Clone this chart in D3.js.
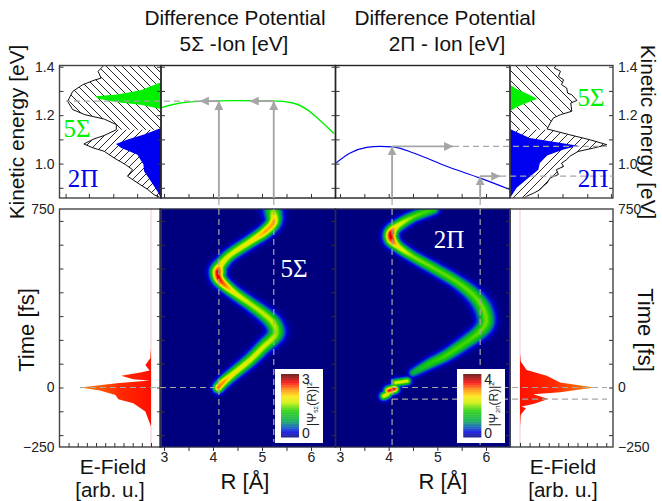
<!DOCTYPE html>
<html>
<head>
<meta charset="utf-8">
<script src="https://cdn.jsdelivr.net/npm/d3@7"></script>
<style>
html, body { margin: 0; padding: 0; background: white; }
svg { display: block; font-family: "Liberation Sans", sans-serif; }
</style>
</head>
<body>
<script>
// spectra, left panel: kinetic energy [eV] / intensity
const leftSpecE = [1.407, 1.381, 1.353, 1.344, 1.326, 1.298, 1.257, 1.223, 1.202, 1.184, 1.161, 1.140, 1.116, 1.102, 1.081, 1.065, 1.051, 1.023, 0.996, 0.975, 0.948, 0.920, 0.893, 0.872, 0.858];
const leftSpecI = [0.56, 0.62, 0.59, 0.66, 0.77, 0.87, 0.92, 0.87, 0.75, 0.56, 0.44, 0.44, 0.56, 0.66, 0.76, 0.67, 0.56, 0.46, 0.35, 0.28, 0.33, 0.23, 0.13, 0.07, 0];
const leftGreenE = [1.336, 1.303, 1.285, 1.278, 1.268, 1.253, 1.243, 1.225];
const leftGreenI = [0, 0.20, 0.43, 0.647, 0.62, 0.43, 0.20, 0];
const leftBlueE = [1.147, 1.120, 1.099, 1.081, 1.065, 1.037, 0.996, 0.968, 0.927, 0.886, 0.858];
const leftBlueI = [0, 0.167, 0.33, 0.444, 0.395, 0.232, 0.173, 0.167, 0.10, 0.036, 0];

// spectra, right panel
const rightSpecE = [1.407, 1.395, 1.381, 1.360, 1.346, 1.326, 1.312, 1.291, 1.284, 1.261, 1.250, 1.216, 1.202, 1.188, 1.167, 1.143, 1.119, 1.098, 1.078, 1.064, 1.050, 1.030, 1.016, 1.002, 0.988, 0.975, 0.955, 0.941, 0.920, 0.906, 0.892, 0.878, 0.865, 0.858];
const rightSpecI = [0.45, 0.43, 0.49, 0.47, 0.52, 0.50, 0.55, 0.56, 0.60, 0.65, 0.59, 0.60, 0.49, 0.42, 0.39, 0.36, 0.58, 0.78, 0.94, 0.81, 0.66, 0.58, 0.55, 0.50, 0.52, 0.45, 0.47, 0.39, 0.36, 0.32, 0.29, 0.23, 0.16, 0.14];
const rightGreenE = [1.326, 1.308, 1.289, 1.268, 1.250, 1.234, 1.216];
const rightGreenI = [0, 0.065, 0.16, 0.265, 0.16, 0.065, 0];
const rightBlueE = [1.143, 1.106, 1.092, 1.074, 1.058, 1.033, 1.003, 0.975, 0.934, 0.900, 0.858];
const rightBlueI = [0, 0.19, 0.39, 0.663, 0.52, 0.36, 0.29, 0.275, 0.16, 0.065, 0];

// difference potentials
const sigmaPotR = [2.93, 3.33, 3.73, 4.41, 5.22, 5.63, 5.92, 6.18, 6.47];
const sigmaPotE = [1.230, 1.250, 1.257, 1.260, 1.259, 1.250, 1.223, 1.179, 1.124];
const piPotR = [2.92, 3.21, 3.55, 3.82, 4.09, 4.51, 5.19, 5.87, 6.49];
const piPotE = [1.003, 1.044, 1.067, 1.071, 1.069, 1.044, 0.989, 0.941, 0.893];

// wave packet ridges: R [A], time [fs], peak (0-1 of the colour bar), width [px]
const sigmaR = [4.11, 4.22, 4.41, 4.76, 5.03, 5.22, 5.29, 5.23, 5.06, 4.76, 4.45, 4.24, 4.12, 4.10, 4.16, 4.35, 4.76, 5.06, 5.24, 5.22];
const sigmaT = [0, 24, 57, 116, 171, 207, 234, 270, 305, 351, 396, 431, 459, 487, 515, 557, 613, 655, 697, 746];
const sigmaPeak = [0.78, 0.74, 0.62, 0.58, 0.56, 0.54, 0.5, 0.54, 0.54, 0.54, 0.6, 0.78, 0.88, 0.88, 0.62, 0.58, 0.62, 0.72, 0.72, 0.45];
const sigmaWidth = [3.4, 3.6, 3.8, 4.1, 4.4, 4.9, 5.6, 5.1, 4.6, 4.1, 3.9, 3.9, 4.3, 4.8, 4.3, 3.9, 3.9, 4.1, 4.6, 6];

const piR = [4.5, 4.85, 5.19, 5.60, 5.87, 6.0, 5.94, 5.74, 5.40, 4.99, 4.5, 4.2, 4.06, 4.05, 4.16, 4.5, 4.92];
const piT = [62, 101, 136, 192, 234, 276, 333, 389, 444, 494, 550, 591, 622, 648, 676, 717, 749];
const piPeak = [0.3, 0.42, 0.45, 0.45, 0.47, 0.48, 0.48, 0.47, 0.47, 0.47, 0.5, 0.62, 0.88, 0.92, 0.62, 0.48, 0.42];
const piWidth = [3, 3.6, 3.9, 4.4, 4.9, 5.6, 5.6, 4.9, 4.1, 3.9, 3.6, 3.6, 4.3, 4.3, 3.9, 3.6, 3.6];
// the three short pieces near time zero
const blobR = [[4.14, 4.38], [3.9, 3.98], [4.0, 4.12]];
const blobT = [[20, 27], [-36, -28], [-14, -6]];
const blobPeak = [0.58, 0.6, 0.85];
const blobWidth = [2.6, 2.8, 3];

// e-field envelopes
const fieldLeftT = [165, 123, 95, 71, 63, 49, 35, 29, 18, 0, -13, -31, -49, -66, -101, -164];
const fieldLeftA = [0, 0.01, 0.08, 0.02, 0.15, 0.42, 0.25, 0.02, 0.48, 1, 0.72, 0.50, 0.46, 0.25, 0.08, 0];
const fieldRightT = [144, 109, 74, 49, 21, 0, -20, -28, -48, -69, -80, -87, -115, -164];
const fieldRightA = [0, 0.01, 0.09, 0.36, 0.54, 1, 0.54, 0.18, 0.38, 0.18, 0.02, 0.08, 0.01, 0];

const energyMajor = [1.0, 1.2, 1.4];
const energyMinor = [0.9, 1.0, 1.1, 1.2, 1.3, 1.4];
const timeMajor = [-250, 0, 750];
const timeMinor = [-200, -100, 0, 100, 200, 300, 400, 500, 600, 700];
const rMajor = [3, 4, 5, 6];
const rMinor = [3, 3.5, 4, 4.5, 5, 5.5, 6];
const specTicksLeft = [0.04, 0.235, 0.47, 0.71, 0.94];
const specTicksRight = [0.27, 0.51, 0.75, 0.98];
const fieldTicks = [0, 0.129, 0.258, 0.387, 0.516, 0.645, 0.774, 0.903, 1.032, 1.161];

const colorStops = [0, 0.08, 0.16, 0.26, 0.42, 0.55, 0.65, 0.76, 0.86, 1];
const colorValues = ["#00007f", "#0000e0", "#0058b8", "#00a848", "#20d000", "#d0f000", "#ffe000", "#ff8000", "#ff0000", "#500000"];

const wSvg = 662;
const hSvg = 501;
const yTop = 65.5, yMid = 198, yHeat = 209, yBot = 447;
const xA = 59.5, xB = 161, xC = 335.5, xD = 510, xE = 613;

const eScale = d3.scaleLinear([0.858, 1.405], [yMid, yTop]);
const tScale = d3.scaleLinear([-250, 750], [yBot, yHeat]);
const rLeft = d3.scaleLinear([3, 6], [164, 311]);
const rRight = d3.scaleLinear([3, 6], [340, 486]);
const specLeft = d3.scaleLinear([0, 1], [xB, xA]);
const specRight = d3.scaleLinear([0, 1], [xD, xE]);
const fieldLeft = d3.scaleLinear([0, 1], [151, 80]);
const fieldRight = d3.scaleLinear([0, 1], [520, 594.3]);
const heatColor = d3.scaleLinear(colorStops, colorValues).clamp(true);

const axisColor = "#444";
const tickColor = "#333";
const gray = "#a6a6a6";
const green = "#00f000";
const blue = "#0000f0";

const svg = d3.select("body").append("svg")
    .attr("width", wSvg)
    .attr("height", hSvg);

const defs = svg.append("defs");

function hatch(id, dir, size) {
    let d = dir > 0 ? `M0,${size} L${size},0 M-1,1 L1,-1 M${size - 1},${size + 1} L${size + 1},${size - 1}`
                    : `M0,0 L${size},${size} M-1,${size - 1} L1,${size + 1} M${size - 1},-1 L${size + 1},1`;
    defs.append("pattern")
        .attr("id", id)
        .attr("patternUnits", "userSpaceOnUse")
        .attr("width", size)
        .attr("height", size)
        .append("path")
        .attr("d", d)
        .attr("stroke", "#111")
        .attr("stroke-width", 0.9);
}
hatch("hatchDownL", -1, 8);
hatch("hatchUpL", 1, 8);
hatch("hatchDownR", -1, 10);
hatch("hatchUpR", 1, 9);

defs.append("marker")
    .attr("id", "arrow")
    .attr("viewBox", "0 0 10 10")
    .attr("refX", 10)
    .attr("refY", 5)
    .attr("markerUnits", "userSpaceOnUse")
    .attr("markerWidth", 9)
    .attr("markerHeight", 9)
    .attr("orient", "auto")
    .append("path")
    .attr("d", "M0,0 L10,5 L0,10 Z")
    .attr("fill", gray);

function fieldGradient(id, x1, x2) {
    let g = defs.append("linearGradient")
        .attr("id", id)
        .attr("gradientUnits", "userSpaceOnUse")
        .attr("x1", x1).attr("x2", x2)
        .attr("y1", 0).attr("y2", 0);
    g.append("stop").attr("offset", 0).attr("stop-color", "#ff1000");
    g.append("stop").attr("offset", 0.45).attr("stop-color", "#ff2a00");
    g.append("stop").attr("offset", 1).attr("stop-color", "#ff8a00");
}
fieldGradient("fieldL", fieldLeft(0), fieldLeft(1));
fieldGradient("fieldR", fieldRight(0), fieldRight(1));

function clip(id, x, y, w, h) {
    defs.append("clipPath").attr("id", id)
        .append("rect").attr("x", x).attr("y", y).attr("width", w).attr("height", h);
}
const ySplit = eScale(1.14);
clip("clipTopL", xA, yTop, xB - xA, ySplit - yTop);
clip("clipLowL", xA, ySplit, xB - xA, yMid - ySplit);
clip("clipTopR", xD, yTop, xE - xD, ySplit - yTop);
clip("clipLowR", xD, ySplit, xE - xD, yMid - ySplit);
clip("clipPotL", xB, yTop, xC - xB, yMid - yTop);
clip("clipPotR", xC, yTop, xD - xC, yMid - yTop);

// heat maps, computed per pixel from the ridge tables
// the ridge is drawn as a rounded curve through the table points, like a spline pen
function spline(a, b, c, d, u) {
    return 0.5 * (2 * b + (c - a) * u + (2 * a - 5 * b + 4 * c - d) * u * u + (3 * b - a - 3 * c + d) * u * u * u);
}
function ridgeSegments(rs, ts, peaks, widths, rScale) {
    let out = [];
    let n = rs.length;
    let xs = rs.map(r => rScale(r));
    let ys = ts.map(t => tScale(t));
    for (let i = 0; i < n - 1; i++) {
        let i0 = Math.max(0, i - 1), i3 = Math.min(n - 1, i + 2);
        for (let k = 0; k < 6; k++) {
            let u1 = k / 6, u2 = (k + 1) / 6;
            out.push({
                x1: spline(xs[i0], xs[i], xs[i + 1], xs[i3], u1),
                y1: spline(ys[i0], ys[i], ys[i + 1], ys[i3], u1),
                x2: spline(xs[i0], xs[i], xs[i + 1], xs[i3], u2),
                y2: spline(ys[i0], ys[i], ys[i + 1], ys[i3], u2),
                p1: peaks[i] + u1 * (peaks[i + 1] - peaks[i]),
                p2: peaks[i] + u2 * (peaks[i + 1] - peaks[i]),
                w1: widths[i] + u1 * (widths[i + 1] - widths[i]),
                w2: widths[i] + u2 * (widths[i + 1] - widths[i])
            });
        }
    }
    return out;
}

function heatImage(x0, x1, segments) {
    let w = Math.round(x1 - x0);
    let h = Math.round(yBot - yHeat);
    let canvas = document.createElement("canvas");
    canvas.width = w;
    canvas.height = h;
    let ctx = canvas.getContext("2d");
    let img = ctx.createImageData(w, h);
    for (let j = 0; j < h; j++) {
        for (let i = 0; i < w; i++) {
            let px = x0 + i + 0.5;
            let py = yHeat + j + 0.5;
            let v = 0;
            for (let s of segments) {
                let dx = s.x2 - s.x1, dy = s.y2 - s.y1;
                let u = ((px - s.x1) * dx + (py - s.y1) * dy) / (dx * dx + dy * dy);
                u = Math.max(0, Math.min(1, u));
                let ex = px - (s.x1 + u * dx), ey = py - (s.y1 + u * dy);
                let sig = s.w1 + u * (s.w2 - s.w1);
                let val = (s.p1 + u * (s.p2 - s.p1)) * Math.exp(-(ex * ex + ey * ey) / (2 * sig * sig));
                if (val > v) v = val;
            }
            let c = d3.rgb(heatColor(v));
            let k = (j * w + i) * 4;
            img.data[k] = c.r;
            img.data[k + 1] = c.g;
            img.data[k + 2] = c.b;
            img.data[k + 3] = 255;
        }
    }
    ctx.putImageData(img, 0, 0);
    svg.append("image")
        .attr("x", x0)
        .attr("y", yHeat)
        .attr("width", w)
        .attr("height", h)
        .attr("href", canvas.toDataURL());
}

heatImage(xB - 1, xC, ridgeSegments(sigmaR, sigmaT, sigmaPeak, sigmaWidth, rLeft));
let piSegments = ridgeSegments(piR, piT, piPeak, piWidth, rRight);
blobR.forEach((r, i) => {
    piSegments = piSegments.concat(ridgeSegments(r, blobT[i], [blobPeak[i], blobPeak[i]], [blobWidth[i], blobWidth[i]], rRight));
});
heatImage(xC, xD, piSegments);

// spectra
function zipE(es, is) {
    return es.map((e, i) => ({ e: e, v: is[i] }));
}
function specArea(scale) {
    return d3.area()
        .y(d => eScale(d.e))
        .x0(scale(0))
        .x1(d => scale(d.v));
}
function specLine(scale) {
    return d3.line()
        .y(d => eScale(d.e))
        .x(d => scale(d.v));
}

const leftSpec = zipE(leftSpecE, leftSpecI);
const rightSpec = zipE(rightSpecE, rightSpecI);

svg.append("path").attr("d", specArea(specLeft)(leftSpec)).attr("fill", "url(#hatchDownL)").attr("clip-path", "url(#clipTopL)");
svg.append("path").attr("d", specArea(specLeft)(leftSpec)).attr("fill", "url(#hatchUpL)").attr("clip-path", "url(#clipLowL)");
svg.append("path").attr("d", specArea(specRight)(rightSpec)).attr("fill", "url(#hatchDownR)").attr("clip-path", "url(#clipTopR)");
svg.append("path").attr("d", specArea(specRight)(rightSpec)).attr("fill", "url(#hatchUpR)").attr("clip-path", "url(#clipLowR)");

svg.append("path").attr("d", specLine(specLeft)(leftSpec)).attr("fill", "none").attr("stroke", "#111").attr("stroke-width", 1);
svg.append("path").attr("d", specLine(specRight)(rightSpec)).attr("fill", "none").attr("stroke", "#111").attr("stroke-width", 1);

svg.append("path").attr("d", specArea(specLeft)(zipE(leftGreenE, leftGreenI))).attr("fill", green);
svg.append("path").attr("d", specArea(specLeft)(zipE(leftBlueE, leftBlueI))).attr("fill", blue);
svg.append("path").attr("d", specArea(specRight)(zipE(rightGreenE, rightGreenI))).attr("fill", green);
svg.append("path").attr("d", specArea(specRight)(zipE(rightBlueE, rightBlueI))).attr("fill", blue);

// e-field envelopes
function fieldArea(scale) {
    return d3.area()
        .y(d => tScale(d.t))
        .x0(scale(0))
        .x1(d => scale(d.a));
}
svg.append("line")
    .attr("x1", fieldLeft(0)).attr("x2", fieldLeft(0))
    .attr("y1", yHeat).attr("y2", yBot)
    .attr("stroke", "#fbd8d8").attr("stroke-width", 1.5);
svg.append("line")
    .attr("x1", fieldRight(0)).attr("x2", fieldRight(0))
    .attr("y1", yHeat).attr("y2", yBot)
    .attr("stroke", "#fbd8d8").attr("stroke-width", 1.5);
svg.append("path")
    .attr("d", fieldArea(fieldLeft)(fieldLeftT.map((t, i) => ({ t: t, a: fieldLeftA[i] }))))
    .attr("fill", "url(#fieldL)");
svg.append("path")
    .attr("d", fieldArea(fieldRight)(fieldRightT.map((t, i) => ({ t: t, a: fieldRightA[i] }))))
    .attr("fill", "url(#fieldR)");

// potential curves
svg.append("path")
    .attr("d", d3.line().x(d => rLeft(d[0])).y(d => eScale(d[1])).curve(d3.curveMonotoneX)(sigmaPotR.map((r, i) => [r, sigmaPotE[i]])))
    .attr("fill", "none").attr("stroke", green).attr("stroke-width", 1.4).attr("clip-path", "url(#clipPotL)");
svg.append("path")
    .attr("d", d3.line().x(d => rRight(d[0])).y(d => eScale(d[1])).curve(d3.curveMonotoneX)(piPotR.map((r, i) => [r, piPotE[i]])))
    .attr("fill", "none").attr("stroke", blue).attr("stroke-width", 1.2).attr("clip-path", "url(#clipPotR)");

// frames
function frame(x, y, w, h, stroke) {
    svg.append("rect")
        .attr("x", x).attr("y", y).attr("width", w).attr("height", h)
        .attr("fill", "none").attr("stroke", stroke).attr("stroke-width", 1.4);
}
frame(xA, yTop, xB - xA, yMid - yTop, axisColor);
frame(xB, yTop, xC - xB, yMid - yTop, "#222");
frame(xC, yTop, xD - xC, yMid - yTop, "#222");
frame(xD, yTop, xE - xD, yMid - yTop, axisColor);
frame(xA, yHeat, xB - xA, yBot - yHeat, axisColor);
frame(xB - 1, yHeat, xC - xB + 1, yBot - yHeat, "#2a2a4a");
frame(xC, yHeat, xD - xC, yBot - yHeat, "#2a2a4a");
frame(xD, yHeat, xE - xD, yBot - yHeat, axisColor);

// axes, ticks pointing inwards
function cleanAxis(g) {
    g.select(".domain").remove();
    g.selectAll("line").attr("stroke", tickColor).attr("stroke-width", 1);
    g.selectAll("text").attr("fill", "#222").style("font-family", "Liberation Sans").style("font-size", "14px");
}
function inner(gen, at, values) {
    svg.append("g")
        .attr("transform", at)
        .call(gen.tickValues(values).tickSizeInner(-4).tickSizeOuter(0).tickFormat(""))
        .call(cleanAxis);
}
function labels(gen, at, values, fmt) {
    svg.append("g")
        .attr("transform", at)
        .call(gen.tickValues(values).tickSize(0).tickPadding(5).tickFormat(fmt))
        .call(cleanAxis);
}
inner(d3.axisLeft(eScale), `translate(${xA},0)`, energyMinor);
labels(d3.axisLeft(eScale), `translate(${xA},0)`, energyMajor, d3.format(".1f"));
inner(d3.axisLeft(eScale), `translate(${xB},0)`, energyMinor);
inner(d3.axisRight(eScale), `translate(${xB},0)`, energyMinor);
inner(d3.axisRight(eScale), `translate(${xC},0)`, energyMinor);
inner(d3.axisLeft(eScale), `translate(${xC},0)`, energyMinor);
inner(d3.axisRight(eScale), `translate(${xD},0)`, energyMinor);
inner(d3.axisRight(eScale), `translate(${xE},0)`, energyMinor);
labels(d3.axisRight(eScale), `translate(${xE},0)`, energyMajor, d3.format(".1f"));

inner(d3.axisBottom(specLeft), `translate(0,${yMid})`, specTicksLeft);
inner(d3.axisBottom(specRight), `translate(0,${yMid})`, specTicksRight);
inner(d3.axisBottom(rLeft), `translate(0,${yMid})`, rMinor);
inner(d3.axisBottom(rRight), `translate(0,${yMid})`, rMinor);

inner(d3.axisLeft(tScale), `translate(${xA},0)`, timeMinor);
labels(d3.axisLeft(tScale), `translate(${xA},0)`, timeMajor, d3.format("d"));
inner(d3.axisRight(tScale), `translate(${xE},0)`, timeMinor);
labels(d3.axisRight(tScale), `translate(${xE},0)`, timeMajor, d3.format("d"));
inner(d3.axisLeft(tScale), `translate(${xB},0)`, timeMinor);
inner(d3.axisRight(tScale), `translate(${xB},0)`, timeMinor);
inner(d3.axisRight(tScale), `translate(${xC},0)`, timeMinor);
inner(d3.axisRight(tScale), `translate(${xD},0)`, timeMinor);

inner(d3.axisBottom(fieldLeft), `translate(0,${yBot})`, fieldTicks);
inner(d3.axisBottom(fieldRight), `translate(0,${yBot})`, fieldTicks);

svg.append("g").attr("transform", `translate(0,${yBot})`)
    .call(d3.axisBottom(rLeft).tickValues(rMinor).tickSizeInner(4).tickSizeOuter(0).tickFormat(""))
    .call(cleanAxis);
svg.append("g").attr("transform", `translate(0,${yBot})`)
    .call(d3.axisBottom(rRight).tickValues(rMinor).tickSizeInner(4).tickSizeOuter(0).tickFormat(""))
    .call(cleanAxis);
labels(d3.axisBottom(rLeft), `translate(0,${yBot})`, rMajor, d3.format("d"));
labels(d3.axisBottom(rRight), `translate(0,${yBot})`, rMajor, d3.format("d"));

// guide lines
function dashed(x1, y1, x2, y2) {
    svg.append("line")
        .attr("x1", x1).attr("y1", y1).attr("x2", x2).attr("y2", y2)
        .attr("stroke", gray).attr("stroke-width", 1.2).attr("stroke-dasharray", "6,4");
}
function arrow(x1, y1, x2, y2) {
    svg.append("line")
        .attr("x1", x1).attr("y1", y1).attr("x2", x2).attr("y2", y2)
        .attr("stroke", gray).attr("stroke-width", 1.9).attr("marker-end", "url(#arrow)");
}

const sigmaLevel = eScale(1.258);
const rS1 = rLeft(4.12), rS2 = rLeft(5.24);
dashed(rS1, 199, rS1, 442);
dashed(rS2, 199, rS2, 442);
arrow(rS1, yMid, rS1, sigmaLevel);
arrow(rS2, yMid, rS2, sigmaLevel);
arrow(rS2, sigmaLevel, rS2 - 24, sigmaLevel);
arrow(rS1, sigmaLevel, rS1 - 19, sigmaLevel);
dashed(rS1 - 19, sigmaLevel, 66, sigmaLevel);
dashed(fieldLeft(1), tScale(0), rS1, tScale(0));

const piLevel1 = eScale(1.071), piLevel2 = eScale(0.948);
const rP1 = rRight(4.07), rP2 = rRight(5.88);
dashed(rP1, 199, rP1, yBot);
dashed(rP2, 199, rP2, yBot);
arrow(rP1, yMid, rP1, piLevel1);
arrow(rP2, yMid, rP2, piLevel2);
arrow(rP1, piLevel1, rP1 + 61, piLevel1);
arrow(rP2, piLevel2, rP2 + 20, piLevel2);
dashed(rP1 + 61, piLevel1, 607, piLevel1);
dashed(rP2 + 20, piLevel2, xE, piLevel2);
dashed(rP1, tScale(0), 607, tScale(0));
dashed(rP1, tScale(-49), 607, tScale(-49));

// colour bars
const barScale = d3.scaleLinear([0, 1], [437.3, 374]);
const barSteps = d3.range(0, 1, 0.01);

function colorBar(xBox, wBox, xBar, top, subText) {
    svg.append("rect")
        .attr("x", xBox).attr("y", 369).attr("width", wBox).attr("height", 74)
        .attr("fill", "white");
    svg.append("g")
        .selectAll("rect")
        .data(barSteps)
        .enter()
        .append("rect")
        .attr("x", xBar)
        .attr("width", 18)
        .attr("y", d => barScale(d + 0.01))
        .attr("height", barScale(0) - barScale(0.012))
        .attr("fill", d => heatColor(d));
    svg.append("text").attr("x", xBar + 21).attr("y", barScale(1) + 10).attr("font-size", 14).attr("fill", "#222").text(top);
    svg.append("text").attr("x", xBar + 21).attr("y", barScale(0) + 1).attr("font-size", 14).attr("fill", "#222").text("0");
    let t = svg.append("text")
        .attr("transform", `translate(${xBar + 35},404) rotate(-90)`)
        .attr("text-anchor", "middle")
        .attr("font-size", 12)
        .attr("fill", "#222");
    t.append("tspan").text("|Ψ");
    t.append("tspan").attr("font-size", 6).attr("dy", 2).text(subText);
    t.append("tspan").attr("dy", -2).text("(R)|");
    t.append("tspan").attr("font-size", 7).attr("dy", -4).text("2");
}
colorBar(275, 48, 281, "3", "5Σ");
colorBar(457, 48, 463.3, "4", "2Π");

// text
function label(x, y, str, size, color, rotate, family) {
    svg.append("text")
        .attr("transform", `translate(${x},${y})` + (rotate ? ` rotate(${rotate})` : ""))
        .attr("text-anchor", "middle")
        .attr("font-size", size)
        .attr("fill", color || "#111")
        .attr("font-family", family || "Liberation Sans")
        .text(str);
}
const serif = "Liberation Serif";
label(235, 25, "Difference Potential", 20.8);
label(234, 51, "5Σ -Ion [eV]", 20.8);
label(445, 25, "Difference Potential", 20.8);
label(447, 51, "2Π - Ion [eV]", 20.8);

label(24, 132, "Kinetic energy [eV]", 20.8, "#111", -90);
label(641, 132, "Kinetic energy [eV]", 20.8, "#111", 90);
label(34, 330, "Time [fs]", 22, "#111", -90);
label(638, 330, "Time [fs]", 22, "#111", 90);

label(113, 474, "E-Field", 21);
label(110, 497, "[arb. u.]", 20.5);
label(563, 474, "E-Field", 21);
label(563, 497, "[arb. u.]", 20.5);
label(245, 488.5, "R [Å]", 22);
label(443, 488.5, "R [Å]", 22);

label(77, 137, "5Σ", 25, green, 0, serif);
label(83, 187, "2Π", 25, blue, 0, serif);
label(591, 106, "5Σ", 25, green, 0, serif);
label(593, 187, "2Π", 25, blue, 0, serif);
label(294, 277, "5Σ", 25, "white", 0, serif);
label(449, 248, "2Π", 25, "white", 0, serif);
</script>
</body>
</html>
